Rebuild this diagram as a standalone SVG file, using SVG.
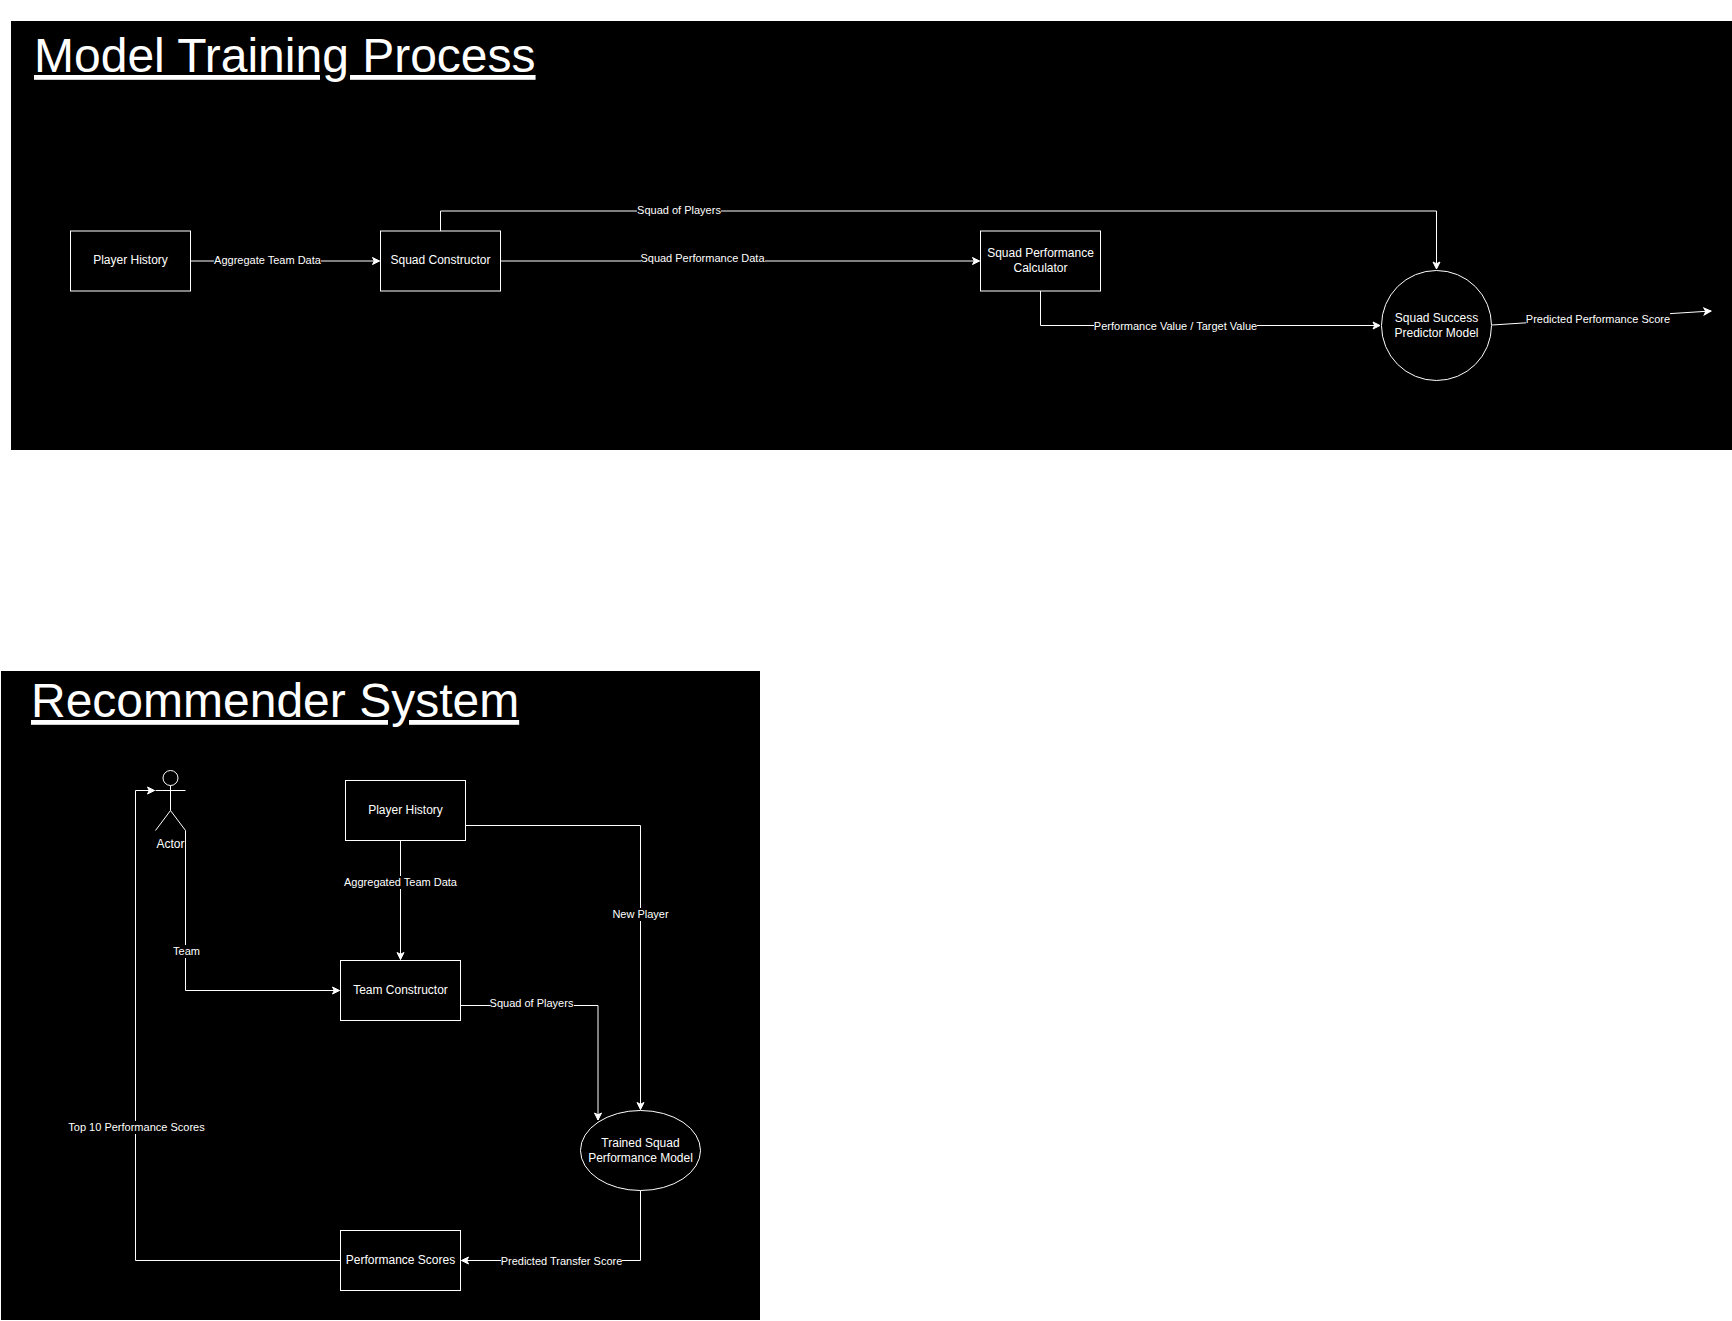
<svg xmlns="http://www.w3.org/2000/svg" width="1732" height="1321" viewBox="0 0 1732 1321">
<style>
text{font-family:"Liberation Sans",Arial,sans-serif;fill:#fff;text-anchor:middle}
.n{font-size:12px}
.e{font-size:11px}
.t{font-size:48px;text-anchor:start;text-decoration:underline}
.s{fill:#000;stroke:#fff;stroke-width:1}
.c{fill:none;stroke:#fff;stroke-width:1}
.a{marker-end:url(#arrow)}
.b{fill:#000}
</style>
<defs>
<marker id="arrow" markerUnits="userSpaceOnUse" viewBox="-8 -5 10 10" refX="0" refY="0" markerWidth="10" markerHeight="10" orient="auto">
<path d="M-7-3.500L0 0L-7 3.500L-5.250 0Z" fill="#fff" stroke="#fff" stroke-width="1"/>
</marker>
</defs>
<rect width="1732" height="1321" fill="#fff"/>
<rect id="panel-training" x="11" y="21" width="1721" height="429" fill="#000"/>
<rect id="panel-recommender" x="1" y="671" width="759" height="649" fill="#000"/>
<text id="title-training" class="t" x="34" y="72">Model Training Process</text>
<text id="title-recommender" class="t" x="31" y="717">Recommender System</text>
<g id="connectors">
<path class="c a" d="M190.500 261H379.500"/>
<path class="c a" d="M440.500 231V211H1436.500V269"/>
<path class="c a" d="M500.500 261H979.500"/>
<path class="c a" d="M1040.500 291V325.500H1380"/>
<path class="c a" d="M1492 325L1711 311"/>
<path class="c a" d="M185.500 830.500V990.500H339.500"/>
<path class="c a" d="M340.500 1260.500H135.500V790.500H154.500"/>
<path class="c a" d="M400.500 840.500V959.500"/>
<path class="c a" d="M465.500 825.500H640.500V1109.500"/>
<path class="c a" d="M460.500 1005.500H598V1120"/>
<path class="c a" d="M640.500 1190.500V1260.500H461.500"/>
<g id="edge-labels">
<rect class="b" x="214" y="254" width="107" height="13"/><text class="e" x="267.500" y="264">Aggregate Team Data</text>
<rect class="b" x="637" y="204" width="84" height="13"/><text class="e" x="679" y="214">Squad of Players</text>
<rect class="b" x="641" y="252" width="124" height="13"/><text class="e" x="702.500" y="262">Squad Performance Data</text>
<rect class="b" x="1094" y="320" width="163" height="13"/><text class="e" x="1175.500" y="330">Performance Value / Target Value</text>
<rect class="b" x="1526" y="312" width="144" height="14"/><text class="e" x="1598" y="323">Predicted Performance Score</text>
<rect class="b" x="175" y="945" width="23" height="13"/><text class="e" x="186.500" y="955">Team</text>
<rect class="b" x="344" y="876" width="113" height="13"/><text class="e" x="400.500" y="886">Aggregated Team Data</text>
<rect class="b" x="612" y="908" width="57" height="13"/><text class="e" x="640.500" y="918">New Player</text>
<rect class="b" x="490" y="997" width="84" height="13"/><text class="e" x="531.500" y="1007">Squad of Players</text>
<rect class="b" x="68" y="1121" width="137" height="13"/><text class="e" x="136.500" y="1131">Top 10 Performance Scores</text>
<rect class="b" x="501" y="1255" width="121" height="13"/><text class="e" x="561.500" y="1265">Predicted Transfer Score</text>
</g>
</g>
<g id="node-player-history-1"><rect class="s" x="70.500" y="231" width="120" height="60"/><text class="n" x="130.500" y="264">Player History</text></g>
<g id="node-squad-constructor"><rect class="s" x="380.500" y="231" width="120" height="60"/><text class="n" x="440.500" y="264">Squad Constructor</text></g>
<g id="node-squad-calculator"><rect class="s" x="980.500" y="231" width="120" height="60"/><text class="n" x="1040.500" y="257">Squad Performance</text><text class="n" x="1040.500" y="272">Calculator</text></g>
<g id="node-predictor"><circle class="s" cx="1436.500" cy="325.500" r="55"/><text class="n" x="1436.500" y="322">Squad Success</text><text class="n" x="1436.500" y="337">Predictor Model</text></g>
<g id="node-actor"><circle class="c" cx="170.500" cy="778" r="7.500"/><path class="c" d="M170.500 785.500V810.500M155.500 790.500H185.500M155.500 830.500L170.500 810.500L185.500 830.500"/><text class="n" x="170.500" y="848">Actor</text></g>
<g id="node-player-history-2"><rect class="s" x="345.500" y="780.500" width="120" height="60"/><text class="n" x="405.500" y="814">Player History</text></g>
<g id="node-team-constructor"><rect class="s" x="340.500" y="960.500" width="120" height="60"/><text class="n" x="400.500" y="994">Team Constructor</text></g>
<g id="node-trained-model"><ellipse class="s" cx="640.500" cy="1150.500" rx="60" ry="40"/><text class="n" x="640.500" y="1147">Trained Squad</text><text class="n" x="640.500" y="1162">Performance Model</text></g>
<g id="node-performance-scores"><rect class="s" x="340.500" y="1230.500" width="120" height="60"/><text class="n" x="400.500" y="1264">Performance Scores</text></g>
</svg>
